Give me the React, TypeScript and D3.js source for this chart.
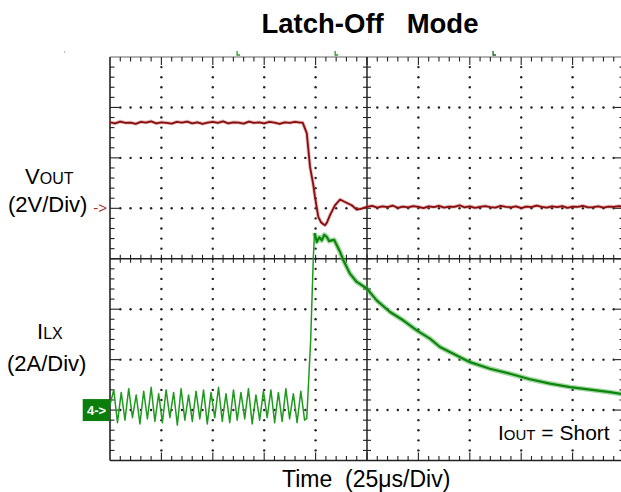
import React from "react";
import * as d3 from "d3";

// ---------- data ----------
// VOUT (V), 2 V/div, ground marker at +1 div
const vStep = 2.5; // µs sample interval for flat parts
const voutBefore = [3.41, 3.37, 3.44, 3.39, 3.40, 3.35, 3.43, 3.40, 3.45, 3.37, 3.41, 3.39, 3.36, 3.43, 3.40, 3.44, 3.37, 3.41, 3.35, 3.40, 3.43, 3.39, 3.45, 3.37, 3.41, 3.40, 3.36, 3.44, 3.39, 3.41, 3.37, 3.43, 3.40, 3.35, 3.41, 3.39, 3.43, 3.40];
const voutTransT = [93.7, 95.7, 97.3, 98.9, 99.7, 101.3, 102.6, 103.8, 104.6, 105.6, 107.0, 109.4, 111.9, 114.3, 117.6, 120.0, 122.4];
const voutTransV = [3.40, 2.98, 1.64, 0.92, 0.45, -0.34, -0.55, -0.63, -0.67, -0.55, -0.27, 0.12, 0.35, 0.25, 0.12, -0.05, -0.01];
const voutAfterStart = 125;
const voutAfter = [0.06, 0.10, 0.03, 0.08, 0.05, 0.11, 0.02, 0.07, 0.04, 0.09, 0.06, 0.01, 0.08, 0.05, 0.10, 0.03, 0.07, 0.06, 0.12, 0.04, 0.08, 0.02, 0.06, 0.09, 0.05, 0.03, 0.10, 0.06, 0.04, 0.08, 0.01, 0.07, 0.05, 0.11, 0.06, 0.03, 0.08, 0.05, 0.09, 0.02, 0.07, 0.06, 0.10, 0.04, 0.05, 0.08, 0.03, 0.07, 0.06, 0.09, 0.05];

// ILX (A), 2 A/div, ground marker at -3 div
const iStep = 1.82; // µs, half ripple period
const ilxRipple = [0.2, 0.8, -0.5, 0.7, -0.4, 0.85, -0.3, 0.6, -0.55, 0.75, -0.35, 0.9, -0.45, 0.65, -0.5, 0.8, -0.3, 0.7, -0.6, 0.85, -0.4, 0.6, -0.45, 0.75, -0.35, 0.8, -0.55, 0.7, -0.3, 0.9, -0.45, 0.65, -0.5, 0.8, -0.4, 0.7, -0.35, 0.85, -0.55, 0.6, -0.4, 0.75, -0.3, 0.8, -0.5, 0.7, -0.45, 0.85, -0.35, 0.65, -0.5, 0.75, -0.4];
const ilxRiseT = [95.7, 97.6, 98.9, 99.5];
const ilxRiseI = [-0.33, 2.77, 6.07, 7.02];
const ilxDecayT = [99.5, 100.6, 101.8, 103.0, 104.2, 105.4, 106.6, 107.8, 109.0, 110.3, 111.9, 113.5, 116.7, 120.0, 124.9, 129.7, 136.2, 142.6, 149.2, 155.6, 160.5, 165.3, 175.1, 184.8, 194.6, 204.3, 214.0, 223.8, 233.5, 243.2, 250];
const ilxDecayI = [7.02, 6.67, 6.85, 6.73, 6.95, 6.87, 6.70, 6.73, 6.75, 6.54, 6.27, 5.94, 5.41, 5.08, 4.82, 4.35, 3.89, 3.56, 3.16, 2.83, 2.50, 2.30, 1.90, 1.64, 1.44, 1.22, 1.05, 0.91, 0.81, 0.71, 0.62];

const triggerMarks = [62.3, 110, 186.8];

const title = "Latch-Off   Mode";
const xLabel = "Time  (25\u03bcs/Div)";

// ---------- layout ----------
const W = 621, H = 492;
const L = 110, R = 624, T = 57, B = 460.5;
const FONT = "'Liberation Sans', Arial, Helvetica, sans-serif";

const xScale = d3.scaleLinear().domain([0, 250]).range([L, R]);
const divX = d3.scaleLinear().domain([0, 10]).range([L, R]);
const divY = d3.scaleLinear().domain([-4, 4]).range([B, T]);
const yV = d3.scaleLinear().domain([-10, 6]).range([B, T]);
const yI = d3.scaleLinear().domain([-2, 14]).range([B, T]);

type P = { t: number; v: number };

const voutData: P[] = [
  ...voutBefore.map((v, i) => ({ t: i * vStep, v })),
  ...voutTransT.map((t, i) => ({ t, v: voutTransV[i] })),
  ...voutAfter.map((v, i) => ({ t: voutAfterStart + i * vStep, v })),
];
const ilxRippleData: P[] = [
  ...ilxRipple.map((v, i) => ({ t: i * iStep, v })),
  ...ilxRiseT.map((t, i) => ({ t, v: ilxRiseI[i] })),
];
const ilxDecayData: P[] = ilxDecayT.map((t, i) => ({ t, v: ilxDecayI[i] }));

const vLine = d3.line<P>().x((d) => xScale(d.t)).y((d) => yV(d.v));
const iLine = d3.line<P>().x((d) => xScale(d.t)).y((d) => yI(d.v));

export default function App() {
  const dots: any[] = [];
  for (let i = 1; i < 10; i++) {
    if (i === 5) continue;
    for (let k = 1; k < 40; k++) {
      dots.push(<circle key={`v${i}-${k}`} cx={divX(i)} cy={divY(-4 + k / 5)} r={1.2} fill="#222" />);
    }
  }
  for (let j = -3; j <= 3; j++) {
    if (j === 0) continue;
    for (let k = 1; k < 50; k++) {
      if (k % 5 === 0) continue;
      dots.push(<circle key={`h${j}-${k}`} cx={divX(k / 5)} cy={divY(j)} r={1.2} fill="#222" />);
    }
  }
  const ticks: any[] = [];
  for (let k = 1; k < 50; k++) {
    const x = divX(k / 5);
    const len = k % 5 === 0 ? 8 : 4.5;
    ticks.push(<line key={`tt${k}`} x1={x} x2={x} y1={T} y2={T + len} stroke="#222" strokeWidth={1.1} />);
    ticks.push(<line key={`tb${k}`} x1={x} x2={x} y1={B} y2={B - len} stroke="#222" strokeWidth={1.1} />);
    ticks.push(<line key={`tc${k}`} x1={x} x2={x} y1={divY(0) - 4} y2={divY(0) + 4} stroke="#222" strokeWidth={1.1} />);
  }
  for (let k = 1; k < 40; k++) {
    const y = divY(-4 + k / 5);
    const len = k % 5 === 0 ? 9 : 4.5;
    ticks.push(<line key={`tl${k}`} x1={L} x2={L + len} y1={y} y2={y} stroke="#222" strokeWidth={1.1} />);
    ticks.push(<line key={`tr${k}`} x1={R} x2={R - len} y1={y} y2={y} stroke="#222" strokeWidth={1.1} />);
    ticks.push(<line key={`tm${k}`} x1={divX(5) - 4} x2={divX(5) + 4} y1={y} y2={y} stroke="#222" strokeWidth={1.1} />);
  }

  return (
    <svg width={W} height={H} style={{ position: "absolute", left: 0, top: 0, background: "#fff" }} fontFamily={FONT}>
      <defs>
        <clipPath id="plot">
          <rect x={L} y={T} width={R - L} height={B - T} />
        </clipPath>
      </defs>
      <text x={370} y={33} textAnchor="middle" fontSize={27.5} fontWeight="bold" style={{ whiteSpace: "pre" }}>
        {title}
      </text>
      {triggerMarks.map((t, i) => (
        <path key={i} d={`M${xScale(t) - 1},${T - 6} v4 h3`} stroke={i === 2 ? "#1d5e1d" : "#2a9a2a"} strokeWidth={1.3} fill="none" />
      ))}
      <rect x={64} y={51.5} width={1.2} height={1.2} fill="#999" />
      <g>{dots}</g>
      {/* frame */}
      <line x1={L} x2={R} y1={T} y2={T} stroke="#666" strokeWidth={1.2} />
      <line x1={L} x2={R} y1={B} y2={B} stroke="#222" strokeWidth={1.4} />
      <line x1={L} x2={L} y1={T} y2={B} stroke="#222" strokeWidth={1.6} />
      <line x1={R} x2={R} y1={T} y2={B} stroke="#222" strokeWidth={1.6} />
      <line x1={L} x2={R} y1={divY(0)} y2={divY(0)} stroke="#222" strokeWidth={1.5} />
      <line x1={divX(5)} x2={divX(5)} y1={T} y2={B} stroke="#222" strokeWidth={1.5} />
      {ticks}
      {/* traces */}
      <g clipPath="url(#plot)" fill="none" strokeLinejoin="round">
        <path d={vLine(voutData) || ""} stroke="#b85050" strokeOpacity={0.4} strokeWidth={3.6} />
        <path d={vLine(voutData) || ""} stroke="#8a0c0c" strokeWidth={1.8} />
        <path d={iLine(ilxRippleData) || ""} stroke="#1f9a1f" strokeWidth={1.5} />
        <path d={iLine(ilxDecayData) || ""} stroke="#4cb04c" strokeOpacity={0.5} strokeWidth={5} />
        <path d={iLine(ilxDecayData) || ""} stroke="#0b860b" strokeWidth={2.2} />
      </g>
      {/* channel markers */}
      <text x={L - 3} y={yV(0) + 5} textAnchor="end" fontSize={15} fill="#a83030">{"->"}</text>
      <rect x={82.7} y={yI(0) - 11} width={L - 82.7} height={22} fill="#0b7d0b" />
      <text x={96.5} y={yI(0) + 4.5} textAnchor="middle" fontSize={13} fontWeight="bold" fill="#fff">{"4->"}</text>
      {/* labels */}
      <text x={25} y={183.5} fontSize={22}>
        V<tspan fontSize={16}>OUT</tspan>
      </text>
      <text x={8} y={212} fontSize={22}>(2V/Div)</text>
      <text x={37} y={339} fontSize={22}>
        I<tspan fontSize={16}>LX</tspan>
      </text>
      <text x={7} y={371} fontSize={22}>(2A/Div)</text>
      <rect x={494} y={421} width={118} height={25} fill="#fff" />
      <text x={498} y={440} fontSize={21}>
        I<tspan fontSize={15}>OUT</tspan>
        <tspan>{" = Short"}</tspan>
      </text>
      <text x={282} y={486.5} fontSize={23} style={{ whiteSpace: "pre" }}>{xLabel}</text>
    </svg>
  );
}
